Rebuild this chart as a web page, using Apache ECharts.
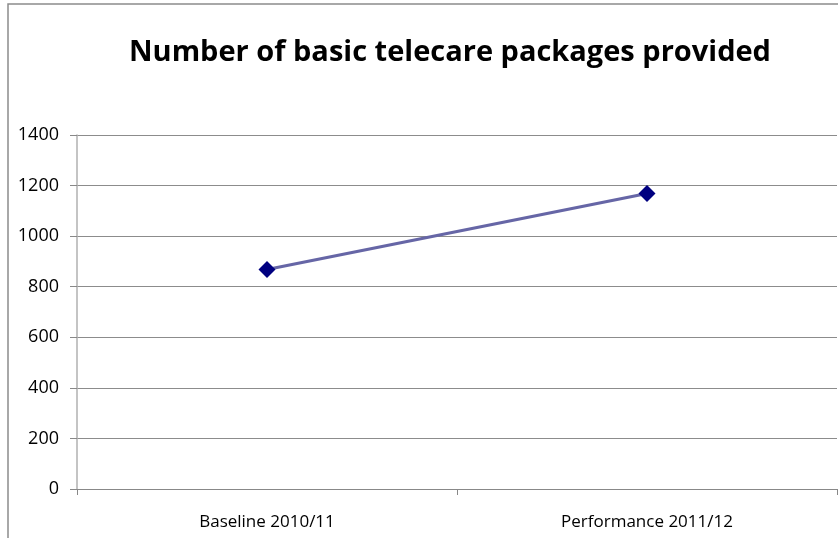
<!DOCTYPE html>
<html>
<head>
<meta charset="utf-8">
<script src="https://cdn.jsdelivr.net/npm/echarts@6/dist/echarts.min.js"></script>
<style>
  html, body { margin: 0; padding: 0; background: #fff; }
  #chart { width: 838px; height: 538px; }
</style>
</head>
<body>
<div id="chart"></div>
<script>
// chart data
const categories = ['Baseline 2010/11', 'Performance 2011/12']
const packages = [868, 1169]
const titleText = 'Number of basic telecare packages provided'

const chart = echarts.init(document.getElementById('chart'))

const option = {
  animation: false,
  textStyle: { fontFamily: 'Open Sans' },
  title: {
    text: titleText,
    left: 124,
    top: 33,
    textStyle: { fontFamily: 'Open Sans', fontWeight: 'bold', fontSize: 29, color: '#000' }
  },
  // outer chart frame, cut by the window edge like the reference
  graphic: [{
    type: 'rect',
    shape: { x: 8, y: 4, width: 900, height: 600 },
    style: { fill: 'none', stroke: '#8c8c8c', lineWidth: 1.5 },
    silent: true
  }],
  grid: { left: 77, right: 1, top: 135, bottom: 49 },
  xAxis: {
    type: 'category',
    data: categories,
    boundaryGap: true,
    axisLine: { lineStyle: { color: '#888' } },
    axisTick: { show: true, length: 6, lineStyle: { color: '#888' } },
    axisLabel: { color: '#000', fontSize: 17, margin: 25 }
  },
  yAxis: {
    type: 'value',
    min: 0,
    max: 1400,
    interval: 200,
    axisLine: { show: true, lineStyle: { color: '#b0b0b0', width: 1.5 } },
    axisTick: { show: true, length: 7, lineStyle: { color: '#888' } },
    axisLabel: { color: '#000', fontSize: 18, margin: 18, formatter: v => String(v) },
    splitLine: { lineStyle: { color: '#8c8c8c', width: 1 } }
  },
  series: [{
    type: 'line',
    data: packages,
    symbol: 'diamond',
    symbolSize: 17,
    lineStyle: { color: '#6666a6', width: 3 },
    itemStyle: { color: '#000080' }
  }]
}

chart.setOption(option)
</script>
</body>
</html>
